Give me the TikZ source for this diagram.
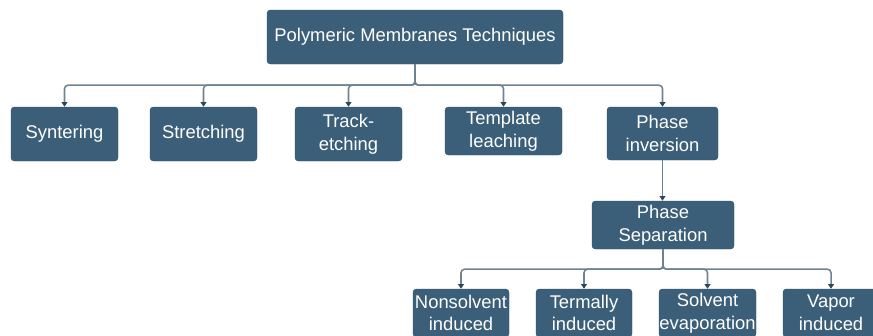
\documentclass[tikz,border=0pt]{standalone}
\usepackage{fontspec}
\setmainfont{Liberation Sans}
\usetikzlibrary{arrows.meta}

\definecolor{boxblue}{HTML}{3B5F78}
\definecolor{linkgray}{HTML}{6E8291}
\definecolor{tipblue}{HTML}{2C465A}
\newcommand{\px}{0.03cm}

\begin{document}
\begin{tikzpicture}[x=0.03cm, y=-0.03cm,
  box/.style={draw=boxblue!85!black, fill=boxblue, rounded corners=3pt,
    text=white, inner sep=0pt, align=center,
    font=\fontsize{15.7}{19.4}\selectfont},
  link/.style={draw=linkgray, line width=1.3pt, rounded corners=3pt,
    -{Triangle[width=5pt,length=4pt,color=tipblue]}}]
  \useasboundingbox (0,0) rectangle (873,335);

  % root
  \node[box, minimum width=296*\px, minimum height=54*\px] (root) at (415,37)
    {Polymeric Membranes Techniques};

  % first level
  \node[box, minimum width=107*\px, minimum height=54*\px] (syn) at (64.5,134) {Syntering};
  \node[box, minimum width=107*\px, minimum height=54*\px] (str) at (203.5,134) {Stretching};
  \node[box, minimum width=107*\px, minimum height=54*\px] (trk) at (348.5,134) {Track-\\etching};
  \node[box, minimum width=117*\px, minimum height=48*\px] (tpl) at (503.5,131) {Template\\leaching};
  \node[box, minimum width=111*\px, minimum height=53*\px] (pha) at (662.5,133.5) {Phase\\inversion};

  \node[box, minimum width=142*\px, minimum height=48*\px] (sep) at (663,225) {Phase\\Separation};

  % second level
  \node[box, minimum width=96*\px, minimum height=48*\px] (non) at (461,313) {Nonsolvent\\induced};
  \node[box, minimum width=96*\px, minimum height=48*\px] (ter) at (584,313) {Termally\\induced};
  \node[box, minimum width=97*\px, minimum height=48*\px] (sol) at (707.5,313) {Solvent\\evaporation};
  \node[box, minimum width=96*\px, minimum height=48*\px] (vap) at (831,313) {Vapor\\induced};

  \foreach \n in {syn,str,trk,tpl,pha}
    \draw[link] (root.south) -- ++(0,21) -| (\n.north);
  \draw[link] (pha.south) -- (pha.south |- sep.north);
  \foreach \n in {non,ter,sol,vap}
    \draw[link] (sep.south) -- ++(0,20) -| (\n.north);
\end{tikzpicture}
\end{document}
